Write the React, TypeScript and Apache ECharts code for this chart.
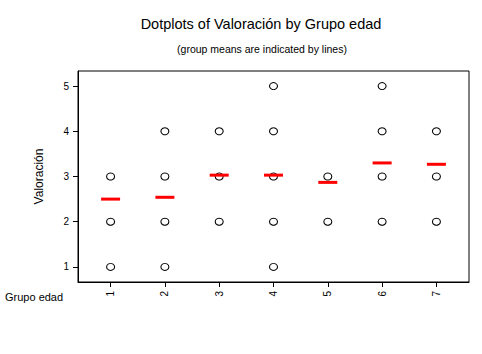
import React, { useEffect, useRef } from "react";
import * as echarts from "echarts";

const groups = [1, 2, 3, 4, 5, 6, 7];
const valueTicks = [1, 2, 3, 4, 5];
const observed: number[][] = [
  [1, 2, 3],
  [1, 2, 3, 4],
  [2, 3, 4],
  [1, 2, 3, 4, 5],
  [2, 3],
  [2, 3, 4, 5],
  [2, 3, 4],
];
const groupMeans = [2.5, 2.54, 3.03, 3.03, 2.87, 3.3, 3.27];

export default function App() {
  const ref = useRef<HTMLDivElement>(null);
  useEffect(() => {
    document.body.style.margin = "0";
    const chart = echarts.init(ref.current!, null, { renderer: "svg" });
    const dots: number[][] = [];
    observed.forEach((vals, i) => vals.forEach((v) => dots.push([groups[i], v])));
    const means = groupMeans.map((m, i) => [groups[i], m]);
    const font = "Arial, 'Liberation Sans', sans-serif";
    chart.setOption({
      animation: false,
      backgroundColor: "#fff",
      title: [
        {
          text: "Dotplots of Valoración by Grupo edad",
          left: 256,
          top: 11,
          textAlign: "center",
          textStyle: { fontFamily: font, fontSize: 14.5, fontWeight: "normal", color: "#000" },
        },
        {
          text: "(group means are indicated by lines)",
          left: 257,
          top: 38,
          textAlign: "center",
          textStyle: { fontFamily: font, fontSize: 10.5, fontWeight: "normal", color: "#000" },
        },
      ],
      grid: { left: 78, right: 13, top: 71, bottom: 72, show: true, borderColor: "#000", borderWidth: 1, backgroundColor: "transparent" },
      xAxis: {
        type: "value",
        min: 0.4,
        max: 7.6,
        splitLine: { show: false },
        axisLine: { show: true, onZero: false, lineStyle: { color: "#000" } },
        axisTick: { show: true, customValues: groups, length: 5, lineStyle: { color: "#000" } },
        axisLabel: {
          customValues: groups,
          rotate: 90,
          margin: 9,
          fontFamily: font,
          fontSize: 10,
          color: "#000",
        },
      },
      yAxis: {
        type: "value",
        min: 0.6667,
        max: 5.3333,
        name: "Valoración",
        nameLocation: "middle",
        nameGap: 33,
        nameRotate: 90,
        nameTextStyle: { fontFamily: font, fontSize: 12, color: "#000" },
        splitLine: { show: false },
        axisLine: { show: true, onZero: false, lineStyle: { color: "#000" } },
        axisTick: { show: true, customValues: valueTicks, length: 5, lineStyle: { color: "#000" } },
        axisLabel: { customValues: valueTicks, margin: 9, fontFamily: font, fontSize: 10, color: "#000" },
      },
      graphic: [
        {
          type: "text",
          left: 5,
          top: 291,
          style: { text: "Grupo edad", fontFamily: font, fontSize: 11, fill: "#000" },
        },
      ],
      series: [
        {
          type: "scatter",
          data: dots,
          symbol: "circle",
          symbolSize: [8, 7],
          itemStyle: { color: "#fff", borderColor: "#000", borderWidth: 1, opacity: 1 },
          z: 2,
        },
        {
          type: "scatter",
          data: means,
          symbol: "rect",
          symbolSize: [19, 3],
          itemStyle: { color: "#ff0000", opacity: 1 },
          z: 3,
        },
      ],
    });
    return () => chart.dispose();
  }, []);
  return <div ref={ref} style={{ width: 482, height: 354 }} />;
}
